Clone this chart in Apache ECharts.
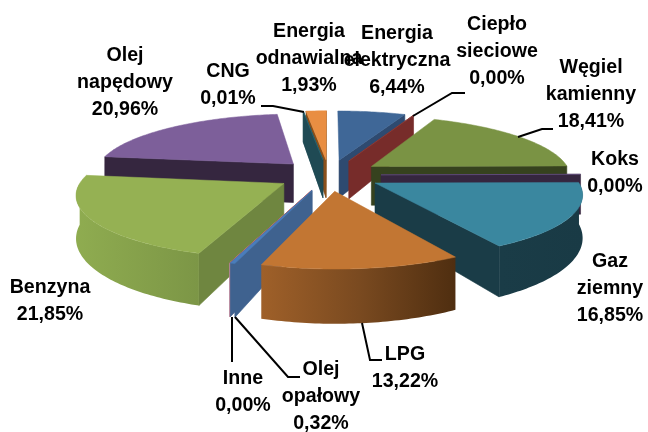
<!DOCTYPE html>
<html><head><meta charset="utf-8">
<style>html,body{margin:0;padding:0;background:#fff}#c{width:648px;height:432px}</style>
<script src="https://cdn.jsdelivr.net/npm/echarts@6/dist/echarts.min.js"></script>
</head><body><div id="c"></div>
<script>
const categories = ['Energia\nelektryczna','Ciepło\nsieciowe','Węgiel\nkamienny','Koks','Gaz\nziemny','LPG','Olej\nopałowy','Inne','Benzyna','Olej\nnapędowy','CNG','Energia\nodnawialna'];
const values = [6.44,0.00,18.41,0.00,16.85,13.22,0.32,0.00,21.85,20.96,0.01,1.93];
const topColors  = ['#3F6797','#8A3A36','#7A9344','#5E4A78','#3A879F','#C27633','#4A7DBB','#C9605A','#95B153','#7D5F9A','#2B6B78','#E98E42'];
const wallColors = ['#2E4A70','#772C2A','#36421E','#35263F','#1A3C47','#7A4A20','#3F628F','#C98A9A','#6F8640','#35263F','#1F4A54','#8A4F1A'];
const curveStops = {
  4:['#1A3C47','#193A45'],
  5:['#9F6029','#7A4A20','#4F2E10'],
  8:['#8FAC50','#7C9646']
};

// labels: layout only (centre x, centre y of the block)
const labelPos = [[397,61],[497,52],[591,95],[615,173],[610,289],[405,368],[321,397],[243,392],[50,301],[125,83],[228,85],[309,59]];
// leader polylines (label side to slice side)
const leaders = {
  1:[[465,93],[452,93],[413,116]],
  2:[[553,129],[542,129],[518,137]],
  5:[[382,360],[370,360],[362,323]],
  6:[[300,377],[288,377],[235,317]],
  7:[[232,362],[232,317]],
  10:[[261,106],[273,106],[304,112]]
};

// perspective pie projection
const cx=329, cy=175, A=200, B=60.6, K=0.15, EXPL=0.26, DEPTH=40;
const total = values.reduce((a,b)=>a+b,0);
function project(U,W){ const s=1/(1-K*W); return {x:cx+U*A*s, y:cy+W*B*s, d:DEPTH*Math.pow(s,1.5)}; }
let acc=0;
const slices = values.map((v,i)=>{
  const a0=acc/total*2*Math.PI; acc+=v; const a1=acc/total*2*Math.PI; const mid=(a0+a1)/2;
  return {i,a0,a1,mid,ou:EXPL*Math.sin(mid),ow:-EXPL*Math.cos(mid)};
});
const pt=(s,a)=>project(s.ou+Math.sin(a),s.ow-Math.cos(a));
const apex=s=>project(s.ou,s.ow);
const xy=p=>[p.x,p.y]; const low=p=>[p.x,p.y+p.d];
function arc(s,a0,a1){ const n=Math.max(1,Math.ceil(Math.abs(a1-a0)/(Math.PI/180))); const r=[]; for(let k=0;k<=n;k++) r.push(pt(s,a0+(a1-a0)*k/n)); return r; }
const order = slices.slice().sort((p,q)=>p.ow-q.ow).map(s=>s.i);
const PI=Math.PI;

function sliceShape(s){
  const kids=[]; const top=topColors[s.i], wall=wallColors[s.i];
  const ap=apex(s);
  const thin=s.a1-s.a0<0.035;
  const wallQuad=(a)=>{ const o=pt(s,a); kids.push({type:'polygon',shape:{points:[xy(ap),xy(o),low(o),low(ap)]},style:{fill:wall,stroke:wall,lineWidth:0.6},silent:true}); };
  if(s.a0>=PI && s.a0<2*PI) wallQuad(s.a0);
  if((s.a1>0 && s.a1<PI) || s.a1>2*PI-0.01 || (thin && s.a0>=PI)) wallQuad(s.a1);
  const f0=Math.max(s.a0,PI/2), f1=Math.min(s.a1,3*PI/2);
  if(f1>f0 && curveStops[s.i]){
    const pts=arc(s,f0,f1);
    const stops=curveStops[s.i].map((c,k,arr)=>({offset:k/(arr.length-1),color:c}));
    kids.push({type:'polygon',shape:{points:pts.map(xy).concat(pts.slice().reverse().map(low))},
      style:{fill:{type:'linear',x:0,y:0,x2:1,y2:0,colorStops:stops}},silent:true});
  }
  if(s.a1-s.a0>0.0005){
    const pts=arc(s,s.a0,s.a1);
    kids.push({type:'polygon',shape:{points:[xy(ap)].concat(pts.map(xy))},style:{fill:top,stroke:top,lineWidth:0.5},silent:true});
  } else if(values[s.i]===0){
    const o=pt(s,s.a0);
    kids.push({type:'line',shape:{x1:ap.x,y1:ap.y,x2:o.x,y2:o.y},style:{stroke:top,lineWidth:1},silent:true});
  }
  return kids;
}

const pct=v=>v.toFixed(2).replace('.',',')+'%';
const chart=echarts.init(document.getElementById('c'));
chart.setOption({
  animation:false,
  backgroundColor:'#ffffff',
  series:[
    {type:'custom',coordinateSystem:'none',silent:true,z:2,
     data:order.map(i=>({name:categories[i],value:values[i]})),
     renderItem:(p)=>({type:'group',children:sliceShape(slices[order[p.dataIndex]])})},
    {type:'custom',coordinateSystem:'none',silent:true,z:3,
     data:categories.map((c,i)=>({name:c,value:values[i]})),
     renderItem:(p)=>{
       const i=p.dataIndex, kids=[];
       if(leaders[i]) kids.push({type:'polyline',shape:{points:leaders[i]},style:{stroke:'#000',lineWidth:2,fill:null}});
       kids.push({type:'text',style:{text:categories[i]+'\n'+pct(values[i]),x:labelPos[i][0],y:labelPos[i][1],
         textAlign:'center',textVerticalAlign:'middle',fill:'#000',
         font:'bold 19.6px "Liberation Sans", Arial, sans-serif',lineHeight:27}});
       return {type:'group',children:kids};
     }}
  ]
});
</script></body></html>
